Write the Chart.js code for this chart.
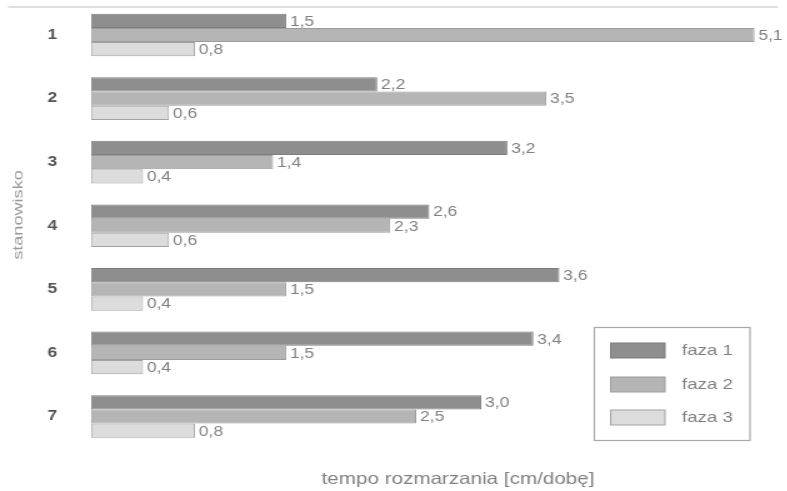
<!DOCTYPE html>
<html>
<head>
<meta charset="utf-8">
<script src="https://cdn.jsdelivr.net/npm/chart.js@4"></script>
<style>
  html, body { margin: 0; padding: 0; background: #fff; overflow: hidden; }
  /* the drawing is laid out narrow and widened to the page width */
  #wrap { position: absolute; left: 0; top: 0; width: 630px; height: 491px;
          transform: scaleX(1.25); transform-origin: 0 0; }
</style>
</head>
<body>
<div id="wrap"><canvas id="c"></canvas></div>
<script>
// stations (categories)
const stations = ['1', '2', '3', '4', '5', '6', '7'];
// series names
const phaseNames = ['faza 1', 'faza 2', 'faza 3'];
// thaw rate per phase [cm/day]
const phase1 = [1.5, 2.2, 3.2, 2.6, 3.6, 3.4, 3.0];
const phase2 = [5.1, 3.5, 1.4, 2.3, 1.5, 1.5, 2.5];
const phase3 = [0.8, 0.6, 0.4, 0.6, 0.4, 0.4, 0.8];
// axis titles
const yTitle = 'stanowisko';
const xTitle = 'tempo rozmarzania [cm/dobę]';

const FONT = "'Liberation Sans', Arial, sans-serif";
const fills = ['#8e8e8e', '#b5b5b5', '#dcdcdc'];
const edges = ['#7d7d7d', '#9c9c9c', '#a2a2a2'];

const series = [phase1, phase2, phase3];

const fmt = v => v.toFixed(1).replace('.', ',');

// numbers printed at the end of every bar
const valueLabels = {
  id: 'valueLabels',
  afterDatasetsDraw(chart) {
    const ctx = chart.ctx;
    ctx.save();
    ctx.font = '14px ' + FONT;
    ctx.fillStyle = '#808080';
    ctx.textAlign = 'left';
    ctx.textBaseline = 'middle';
    chart.data.datasets.forEach((ds, di) => {
      chart.getDatasetMeta(di).data.forEach((bar, i) => {
        ctx.fillText(fmt(ds.data[i]), bar.x + 3, bar.y + 1);
      });
    });
    ctx.restore();
  }
};

// thin rule along the top edge
const topRule = {
  id: 'topRule',
  beforeDraw(chart) {
    const ctx = chart.ctx;
    ctx.save();
    ctx.strokeStyle = '#dedede';
    ctx.lineWidth = 2;
    ctx.beginPath();
    ctx.moveTo(6.4, 7);
    ctx.lineTo(chart.chartArea.right, 7);
    ctx.stroke();
    ctx.restore();
  }
};

// axis titles and the boxed legend in the lower right
const annotations = {
  id: 'annotations',
  afterDraw(chart) {
    const ctx = chart.ctx;
    ctx.save();
    // x axis title
    ctx.font = '16.5px ' + FONT;
    ctx.fillStyle = '#808080';
    ctx.textAlign = 'center';
    ctx.textBaseline = 'middle';
    ctx.fillText(xTitle, 366.4, 479);

    // y axis title, running upwards (kept long and slim)
    ctx.save();
    ctx.translate(14.4, 215);
    ctx.rotate(-Math.PI / 2);
    ctx.scale(1.25, 0.8);
    ctx.font = '14.5px ' + FONT;
    ctx.fillStyle = '#9a9a9a';
    ctx.fillText(yTitle, 0, 0);
    ctx.restore();

    // legend frame
    const bx = 475.5, by = 327.5, bw = 124.5, bh = 113;
    ctx.strokeStyle = '#a8a8a8';
    ctx.lineWidth = 1.2;
    ctx.strokeRect(bx, by, bw, bh);
    const rows = [350.5, 384.5, 417.5];
    ctx.font = '15px ' + FONT;
    ctx.textAlign = 'left';
    chart.data.datasets.forEach((ds, i) => {
      const cy = rows[i];
      ctx.fillStyle = ds.backgroundColor;
      ctx.fillRect(488.5, cy - 7.5, 43.5, 15);
      ctx.strokeStyle = ds.borderColor;
      ctx.lineWidth = 1;
      ctx.strokeRect(488.5, cy - 7.5, 43.5, 15);
      ctx.fillStyle = '#808080';
      ctx.fillText(ds.label, 545.6, cy + 0.5);
    });
    ctx.restore();
  }
};

new Chart(document.getElementById('c'), {
  type: 'bar',
  data: {
    labels: stations,
    datasets: series.map((vals, i) => ({
      label: phaseNames[i],
      data: vals,
      backgroundColor: fills[i],
      borderColor: edges[i],
      borderWidth: 1,
      borderSkipped: false,
      barPercentage: 1,
      categoryPercentage: 0.67
    }))
  },
  options: {
    indexAxis: 'y',
    responsive: true,
    maintainAspectRatio: false,
    animation: false,
    devicePixelRatio: 1,
    layout: { padding: { top: 3.2, bottom: 42.7, left: 0, right: 7.6 } },
    plugins: {
      legend: { display: false },
      tooltip: { enabled: false }
    },
    scales: {
      x: {
        display: false,
        min: 0,
        max: 5.28
      },
      y: {
        grid: { display: false, drawTicks: false },
        border: { display: false },
        ticks: {
          padding: 27,
          color: '#555',
          font: { family: FONT, size: 14, weight: 'bold' }
        },
        afterFit(scale) {
          scale.width = 72.8;
          // keep the label gap from reserving room above and below the bars
          scale.paddingTop = 0;
          scale.paddingBottom = 0;
        }
      }
    }
  },
  plugins: [topRule, valueLabels, annotations]
});
</script>
</body>
</html>
